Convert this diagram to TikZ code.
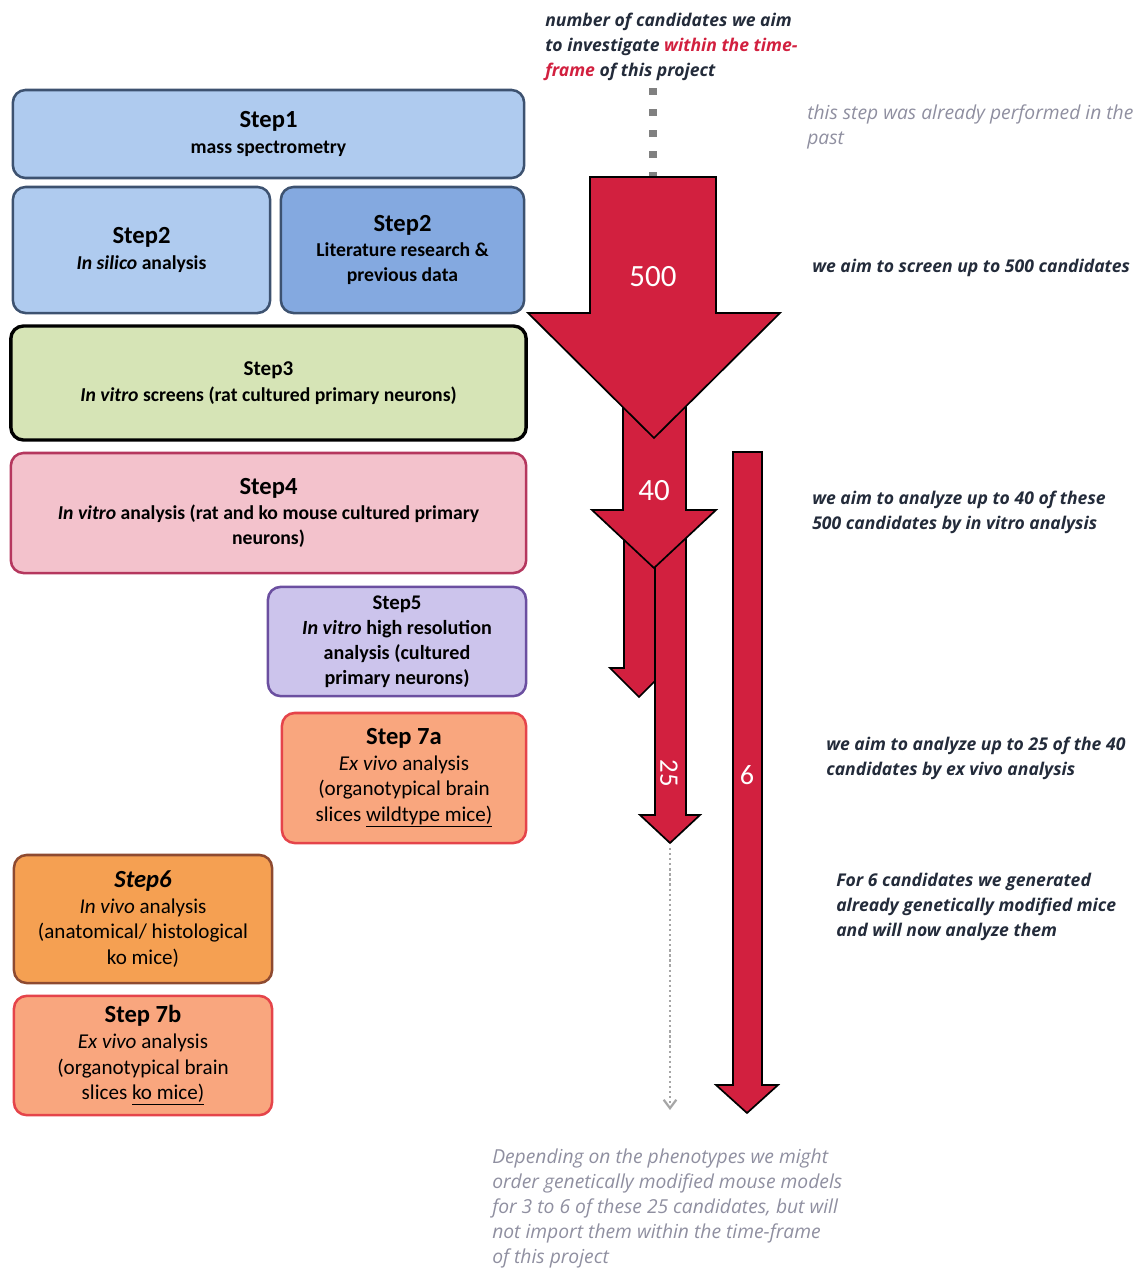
\documentclass[tikz,border=0pt]{standalone}
\usepackage{fontspec}
\setmainfont{Carlito}
\newfontfamily\notefont{Open Sans}
\usetikzlibrary{arrows.meta}
\definecolor{arrowred}{HTML}{D2203F}
\definecolor{blueline}{HTML}{3D5270}
\definecolor{bluelight}{HTML}{AFCBEF}
\definecolor{bluemid}{HTML}{84A9E0}
\definecolor{greenfill}{HTML}{D6E4B6}
\definecolor{pinkfill}{HTML}{F3C2CC}
\definecolor{pinkline}{HTML}{B5375E}
\definecolor{lilacfill}{HTML}{CCC4EC}
\definecolor{lilacline}{HTML}{6B4FA0}
\definecolor{peachfill}{HTML}{F9A67E}
\definecolor{peachline}{HTML}{E5444A}
\definecolor{orangefill}{HTML}{F5A052}
\definecolor{brownline}{HTML}{8E4A30}
\definecolor{notedark}{HTML}{232B3A}
\definecolor{notegrey}{HTML}{8F8FA0}
\newcommand{\sttl}[1]{{\fontsize{17.5}{20}\selectfont #1}}
\begin{document}
\begin{tikzpicture}[x=0.025cm, y=-0.025cm,
    stepbox/.style={draw, rounded corners=9pt, line width=1.8pt, align=center, inner sep=2pt,
      font=\fontsize{14}{18}\selectfont\bfseries},
    thinbox/.style={stepbox, font=\fontsize{15}{18.2}\selectfont},
    fat/.style={fill=arrowred, draw=black, line width=1.2pt, line join=miter},
    num/.style={text=white, inner sep=0pt, font=\fontsize{22}{22}\selectfont},
    note/.style={anchor=base west, align=left, inner sep=0pt, text=notedark,
      font=\notefont\fontsize{12.5}{17.7}\selectfont\bfseries\itshape},
    greynote/.style={note, text=notegrey, font=\notefont\fontsize{13.7}{17.7}\selectfont\itshape}]
    \useasboundingbox (0,0) rectangle (1148,1269);

    % steps on the left
    \node[stepbox, fill=bluelight, draw=blueline, minimum width=12.78cm, minimum height=2.2cm] (s1) at (268.5,134)
        {\sttl{Step1}\\mass spectrometry};
    \node[stepbox, fill=bluelight, draw=blueline, minimum width=6.43cm, minimum height=3.15cm] (s2a) at (141.5,250)
        {\sttl{Step2}\\\textit{In silico} analysis};
    \node[stepbox, fill=bluemid, draw=blueline, minimum width=6.08cm, minimum height=3.15cm] (s2b) at (402.5,250)
        {\sttl{Step2}\\Literature research \&\\previous data};
    \node[stepbox, fill=greenfill, draw=black, line width=2.4pt, minimum width=12.88cm, minimum height=2.85cm] (s3) at (268.5,383)
        {{\fontsize{15}{18}\selectfont Step3}\\\textit{In vitro} screens (rat cultured primary neurons)};
    \node[stepbox, fill=pinkfill, draw=pinkline, minimum width=12.88cm, minimum height=3cm] (s4) at (268.5,513)
        {\sttl{Step4}\\\textit{In vitro} analysis (rat and ko mouse cultured primary\\neurons)};
    \node[stepbox, fill=lilacfill, draw=lilacline, minimum width=6.45cm, minimum height=2.73cm, font=\fontsize{14.3}{17.7}\selectfont\bfseries] (s5) at (397,641.5)
        {{\fontsize{14.8}{17.7}\selectfont Step5}\\\textit{In vitro} high resolution\\analysis (cultured\\primary neurons)};
    \node[thinbox, fill=peachfill, draw=peachline, minimum width=6.1cm, minimum height=3.25cm] (s7a) at (404,778)
        {\sttl{\bfseries Step 7a}\\\textit{Ex vivo} analysis\\(organotypical brain\\slices \underline{wildtype mice)}};
    \node[thinbox, fill=orangefill, draw=brownline, minimum width=6.45cm, minimum height=3.2cm] (s6) at (143,919)
        {\sttl{\bfseries\itshape Step6}\\\textit{In vivo} analysis\\(anatomical/ histological\\ko mice)};
    \node[thinbox, fill=peachfill, draw=peachline, minimum width=6.45cm, minimum height=2.98cm] (s7b) at (143,1055.5)
        {\sttl{\bfseries Step 7b}\\\textit{Ex vivo} analysis\\(organotypical brain\\slices \underline{ko mice)}};

    % funnel of arrows
    \coordinate (top500) at (653,177);
    \coordinate (tip25) at (670,848);
    \coordinate (end25) at (670,1110);
    \draw[gray, line width=5pt, dash pattern=on 5pt off 10pt] (653,88) -- (top500);
    \draw[fat] (624,540) -- (656,540) -- (656,668) -- (668,668) -- (639,697) -- (610,668) -- (624,668) -- cycle;
    \draw[fat] (655,530) -- (686,530) -- (686,815) -- (700,815) -- (670,843) -- (640,815) -- (655,815) -- cycle;
    \draw[fat] (623,400) -- (686,400) -- (686,510) -- (716,510) -- (654,568) -- (592,510) -- (623,510) -- cycle;
    \draw[fat] (590,177) -- (716,177) -- (716,313) -- (780,313) -- (654,438) -- (528,313) -- (590,313) -- cycle;
    \draw[fat] (733,452) -- (762,452) -- (762,1085) -- (778,1085) -- (747,1113) -- (716,1085) -- (733,1085) -- cycle;
    \node[num] (n500) at (653,277) {500};
    \node[num] (n40) at (654,491) {40};
    \node[num, rotate=-90, font=\fontsize{19}{19}\selectfont] (n25) at (669,773) {25};
    \node[num, font=\fontsize{20}{20}\selectfont] (n6) at (747,775) {6};
    \draw[gray!70, dotted, line width=1.6pt, -{Straight Barb[length=6pt, width=9pt]}] (tip25) -- (end25);

    % notes on the right (anchored at the baseline of the last line)
    \node[note] (aim) at (545,76) {number of candidates we aim\\to investigate \textcolor{arrowred}{within the time-}\\\textcolor{arrowred}{frame} of this project};
    \node[greynote] (past) at (807,144) {this step was already performed in the\\past};
    \node[note] (t500) at (812,272) {we aim to screen up to 500 candidates};
    \node[note] (t40) at (812,529) {we aim to analyze up to 40 of these\\500 candidates by in vitro analysis};
    \node[note] (t25) at (826,775) {we aim to analyze up to 25 of the 40\\candidates by ex vivo analysis};
    \node[note] (t6) at (836,936) {For 6 candidates we generated\\already genetically modified mice\\and will now analyze them};
    \node[greynote] (later) at (492,1263) {Depending on the phenotypes we might\\order genetically modified mouse models\\for 3 to 6 of these 25 candidates, but will\\not import them within the time-frame\\of this project};
\end{tikzpicture}
\end{document}
